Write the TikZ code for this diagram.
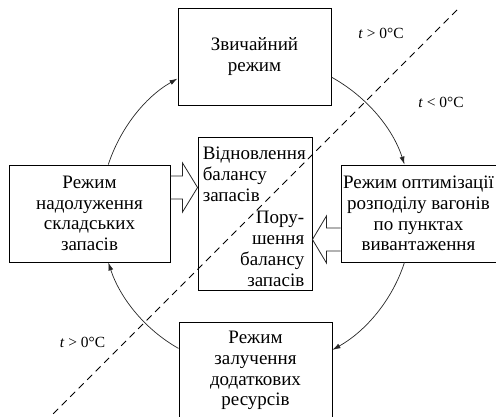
\documentclass[tikz,border=0pt]{standalone}
\usepackage{fontspec}
\setmainfont{Liberation Serif}
\usetikzlibrary{calc, arrows.meta}

\begin{document}
\begin{tikzpicture}[
        x=1pt, y=1pt,
        mode_box/.style={rectangle, draw=black, line width=0.9pt, minimum height=97pt, align=center, inner sep=2pt, font=\fontsize{19}{20.7}\selectfont},
        inner_text/.style={inner sep=0pt, font=\fontsize{19}{21}\selectfont},
        temp_label/.style={font=\fontsize{15.5}{18}\selectfont},
        arrow/.style={-{Latex[length=8pt, width=5pt]}, line width=0.7pt, draw=black!85, looseness=0.88},
        block_arrow/.style={line width=0.8pt, draw=black!85, line join=miter},
        border_line/.style={dashed, dash pattern=on 7pt off 5pt, line width=0.8pt}
    ]
        \useasboundingbox (0,0) rectangle (496,417);
        % --- NODES ---
        \node[mode_box, minimum width=153pt] (usual) at (254.5,360.5) {Звичайний\\режим};
        \node[mode_box, minimum width=161pt] (catchup) at (89.5,203.5) {Режим\\надолуження\\складських\\запасів};
        \node[mode_box, minimum width=155pt] (optim) at (418.5,203.5) {Режим оптимізації\\розподілу вагонів\\по пунктах\\вивантаження};
        \node[mode_box, minimum width=153pt] (extra) at (255.5,46.5) {Режим\\залучення\\додаткових\\ресурсів};
        \node[rectangle, draw=black, line width=0.9pt, minimum width=114pt, minimum height=153pt] (balance) at (255,203.5) {};
        \node[inner_text, anchor=north west, align=left] (restore) at ($(balance.north west)+(5,-10)$) {Відновлення\\балансу\\запасів};
        \node[inner_text, anchor=south east, align=right] (breach) at ($(balance.south east)+(-8,4)$) {Пору-\\шення\\балансу\\запасів};

        \node[temp_label] (warm_top) at (381,384) {\textit{t} > 0°C};
        \node[temp_label] (cold) at (441,315) {\textit{t} < 0°C};
        \node[temp_label] (warm_bottom) at (82.5,75) {\textit{t} > 0°C};

        % --- TEMPERATURE BORDER ---
        \coordinate (border_top) at (457,407);
        \coordinate (border_bottom) at (50,0);
        \draw[border_line] (border_top) -- (border_bottom);

        % --- CYCLE ---
        \draw[arrow] (usual.-15) to[out=-29, in=107.9] (optim.106.6);
        \draw[arrow] (optim.-106.6) to[out=-107.9, in=29.4] (extra.15.8);
        \draw[arrow] (extra.164.2) to[out=150.6, in=-71.7] (catchup.-69.7);
        \draw[arrow] (catchup.69.7) to[out=71.7, in=-150.2] (usual.-164.6);

        % --- BLOCK ARROWS ---
        \coordinate (left_from) at ($(catchup.east)+(0,26)$);
        \coordinate (left_tip) at (balance.west |- left_from);
        \draw[block_arrow] ($(left_from)+(0,11.5)$) -- ($(left_tip)+(-15,11.5)$) -- ($(left_tip)+(-15,24.5)$) -- (left_tip)
            -- ($(left_tip)+(-15,-24.5)$) -- ($(left_tip)+(-15,-11.5)$) -- ($(left_from)+(0,-11.5)$);
        \coordinate (right_from) at ($(optim.west)+(0,-26)$);
        \coordinate (right_tip) at (balance.east |- right_from);
        \draw[block_arrow] ($(right_from)+(0,11.5)$) -- ($(right_tip)+(14,11.5)$) -- ($(right_tip)+(14,23.5)$) -- (right_tip)
            -- ($(right_tip)+(14,-23.5)$) -- ($(right_tip)+(14,-11.5)$) -- ($(right_from)+(0,-11.5)$);
    \end{tikzpicture}
\end{document}
